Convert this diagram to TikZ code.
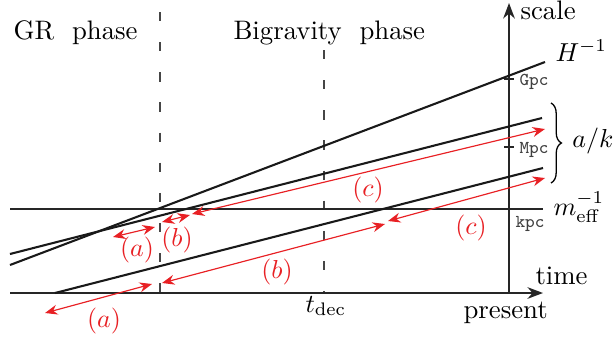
\documentclass[tikz,border=0pt]{standalone}
\usetikzlibrary{arrows.meta,decorations.pathreplacing}
\definecolor{myred}{RGB}{232,32,36}
\definecolor{dashgray}{RGB}{70,70,70}
\begin{document}
\begin{tikzpicture}[x=0.385pt,y=-0.385pt,font=\fontsize{10.3}{12}\selectfont,
  axis/.style={line width=0.55pt,black!85},
  curve/.style={line width=0.8pt,black!90},
  phaseline/.style={line width=0.5pt,dashgray,dash pattern=on 3.6pt off 8pt},
  redarr/.style={line width=0.45pt,myred,{Stealth[length=4.8pt,width=3.8pt]}-{Stealth[length=4.8pt,width=3.8pt]}},
  redlab/.style={text=myred,inner sep=0pt},
  unitlab/.style={font=\scriptsize\ttfamily,text=black!75,anchor=base west,inner sep=0pt},
  txt/.style={anchor=base west,inner sep=0pt}]
\useasboundingbox (0,0) rectangle (614,343);
% coordinates
\coordinate (tL) at (10,293);
\coordinate (tR) at (543,293);
\coordinate (sB) at (509,293);
\coordinate (sT) at (509,3);
\coordinate (mL) at (10,209);
\coordinate (mR) at (543,209);
\coordinate (hL) at (10,265);
\coordinate (hR) at (545,62);
\coordinate (kL) at (10,254);
\coordinate (kR) at (542,118);
\coordinate (jL) at (55,293);
\coordinate (jR) at (543,168);
\coordinate (d1T) at (160,12);
\coordinate (d1B) at (160,293);
\coordinate (d2T) at (324,50);
\coordinate (d2B) at (324,293);
% phase lines
\draw[phaseline] (d1T) -- (d1B);
\draw[phaseline] (d2T) -- (d2B);
% axes
\draw[axis,-{Stealth[length=6pt,width=4.5pt]}] (tL) -- (tR);
\draw[axis,-{Stealth[length=6pt,width=4.5pt]}] (sB) -- (sT);
\draw[axis] (mL) -- (mR);
\coordinate (g1) at (504,79); \coordinate (g2) at (514,79);
\coordinate (p1) at (504,147); \coordinate (p2) at (514,147);
\draw[axis] (g1) -- (g2);
\draw[axis] (p1) -- (p2);
% curves
\draw[curve] (hL) -- (hR);
\draw[curve] (kL) -- (kR);
\draw[curve] (jL) -- (jR);
% red arrows
\coordinate (a1s) at (45,313); \coordinate (a1e) at (152,284);
\coordinate (b1s) at (162,283); \coordinate (b1e) at (385,224);
\coordinate (c1s) at (388,221); \coordinate (c1e) at (545,178);
\coordinate (a2s) at (113,237); \coordinate (a2e) at (155,227);
\coordinate (b2s) at (162,222); \coordinate (b2e) at (190,215);
\coordinate (c2s) at (192,214); \coordinate (c2e) at (545,129);
\draw[redarr] (a1s) -- (a1e);
\draw[redarr] (b1s) -- (b1e);
\draw[redarr] (c1s) -- (c1e);
\draw[redarr] (a2s) -- (a2e);
\draw[redarr] (b2s) -- (b2e);
\draw[redarr] (c2s) -- (c2e);
% red labels
\node[redlab] (la1) at (104,321) {$(a)$};
\node[redlab] (la2) at (137,250) {$(a)$};
\node[redlab] (lb2) at (177,240) {$(b)$};
\node[redlab] (lb1) at (277,272) {$(b)$};
\node[redlab] (lc2) at (368,190) {$(c)$};
\node[redlab] (lc1) at (471,228) {$(c)$};
% brace
\coordinate (brT) at (551,103);
\coordinate (brB) at (551,183);
\draw[line width=0.5pt,decorate,decoration={brace,amplitude=4pt}] (brT) -- (brB);
\node[inner sep=0pt] (ak) at (593,141) {$a/k$};
% texts
\node[txt] (gr) at (13,39) {GR\ \ phase};
\node[txt] (bg) at (233,39) {Bigravity\ \ phase};
\node[txt] (sc) at (520,20) {scale};
\node[txt] (hinv) at (555,61) {$H^{-1}$};
\node[txt] (minv) at (553,215) {$m_{\mathrm{eff}}^{-1}$};
\node[txt] (tm) at (535,284) {time};
\node[txt] (pr) at (463,318) {present};
\node[txt] (td) at (305,312) {$t_{\mathrm{dec}}$};
\node[unitlab] (gpc) at (519,85) {Gpc};
\node[unitlab] (mpc) at (519,153) {Mpc};
\node[unitlab] (kpc) at (515,227) {kpc};
\end{tikzpicture}
\end{document}
